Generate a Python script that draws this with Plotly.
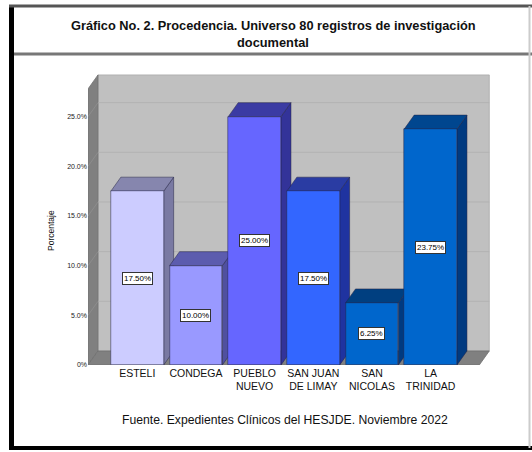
import plotly.graph_objects as go

# ---------------- data ----------------
categories = ["ESTELI", "CONDEGA", "PUEBLO<br>NUEVO", "SAN JUAN<br>DE LIMAY", "SAN<br>NICOLAS", "LA<br>TRINIDAD"]
values = [17.50, 10.00, 25.00, 17.50, 6.25, 23.75]
value_labels = ["17.50%", "10.00%", "25.00%", "17.50%", "6.25%", "23.75%"]
y_ticks = [0, 5, 10, 15, 20, 25]
y_tick_labels = ["0%", "5.0%", "10.0%", "15.0%", "20.0%", "25.0%"]
title_line1 = "Gráfico No. 2. Procedencia. Universo 80 registros de investigación"
title_line2 = "documental"
source_text = "Fuente. Expedientes Clínicos del HESJDE. Noviembre 2022"
y_title = "Porcentaje"

# ---------------- styles ----------------
front_colors = ["#CCCCFF", "#9999FF", "#6666FF", "#3366FF", "#0066CC", "#0066CC"]
top_colors = ["#8686AE", "#5C5CAE", "#3B3BA3", "#2A3CA3", "#003F80", "#00468F"]
side_colors = ["#7A7AA3", "#50509F", "#333399", "#1F33A0", "#003A80", "#003A80"]

W, H = 532, 452
L, R, T, B = 88, 31, 67, 87
XR = [-0.84, 6.2]
YR = [0, 30]
BW = 0.9          # bar width (category units)
DX = 0.17         # depth offset x (category units)
DY = 1.41         # depth offset y (value units)
FONT = "Liberation Sans, Arial, sans-serif"


def px(x):
    return (x - L) / (W - L - R)


def py(y):
    return (H - B - y) / (H - T - B)


x = list(range(len(values)))
shapes = []

# walls / floor
back_l, back_r = XR[0] + DX, 6.0
top_v = 29.2
shapes.append(dict(type="rect", xref="x", yref="y", x0=back_l, x1=back_r, y0=DY, y1=top_v,
                   fillcolor="#C0C0C0", line=dict(color="#A8A8A8", width=0.8), layer="below"))
shapes.append(dict(type="path", xref="x", yref="y",
                   path=f"M{XR[0]},0 L{XR[0]},{top_v-DY} L{back_l},{top_v} L{back_l},{DY} Z",
                   fillcolor="#808080", line=dict(color="#707070", width=0.8), layer="below"))
shapes.append(dict(type="path", xref="x", yref="y",
                   path=f"M{XR[0]},0 L{back_r-DX},0 L{back_r},{DY} L{back_l},{DY} Z",
                   fillcolor="#808080", line=dict(color="#707070", width=0.8), layer="below"))
# gridlines
for v in y_ticks[1:]:
    shapes.append(dict(type="line", xref="x", yref="y", x0=back_l, x1=back_r, y0=v + DY, y1=v + DY,
                       line=dict(color="#B2B2B2", width=1), layer="below"))
    shapes.append(dict(type="line", xref="x", yref="y", x0=XR[0], x1=back_l, y0=v, y1=v + DY,
                       line=dict(color="#8C8C8C", width=1), layer="below"))

# bar sides and tops
for i, v in enumerate(values):
    lft, rgt = i - BW / 2, i + BW / 2
    shapes.append(dict(type="path", xref="x", yref="y",
                       path=f"M{rgt},0 L{rgt+DX},{DY} L{rgt+DX},{v+DY} L{rgt},{v} Z",
                       fillcolor=side_colors[i], line=dict(color="#222244", width=0.5), layer="below"))
    shapes.append(dict(type="path", xref="x", yref="y",
                       path=f"M{lft},{v} L{lft+DX},{v+DY} L{rgt+DX},{v+DY} L{rgt},{v} Z",
                       fillcolor=top_colors[i], line=dict(color="#222244", width=0.5), layer="below"))

# frame
shapes += [
    dict(type="rect", xref="paper", yref="paper", x0=px(9), x1=px(14), y0=py(5), y1=py(450),
         fillcolor="#000000", line=dict(width=0), layer="above"),
    dict(type="line", xref="paper", yref="paper", x0=px(9), x1=px(532), y0=py(6), y1=py(6),
         line=dict(color="#555555", width=3)),
    dict(type="line", xref="paper", yref="paper", x0=px(14), x1=px(532), y0=py(54), y1=py(54),
         line=dict(color="#777777", width=3)),
    dict(type="line", xref="paper", yref="paper", x0=px(9), x1=px(532), y0=py(448), y1=py(448),
         line=dict(color="#000000", width=4)),
    dict(type="line", xref="paper", yref="paper", x0=px(529.5), x1=px(529.5), y0=py(6), y1=py(448),
         line=dict(color="#CCCCCC", width=2)),
]

fig = go.Figure()
fig.add_trace(go.Bar(x=x, y=values, width=BW, marker=dict(color=front_colors, line=dict(color="#222244", width=0.5)),
                     hoverinfo="skip", showlegend=False))

annotations = []
for i, v in enumerate(values):
    annotations.append(dict(x=i, y=v / 2, xref="x", yref="y", text=value_labels[i], showarrow=False,
                            font=dict(family=FONT, size=8, color="#000000"),
                            bgcolor="#FFFFFF", bordercolor="#333333", borderwidth=1, borderpad=1))

annotations += [
    dict(x=px(273), y=py(25), xref="paper", yref="paper", text=f"<b>{title_line1}</b>", showarrow=False,
         font=dict(family=FONT, size=12.8, color="#111111"), xanchor="center", yanchor="middle"),
    dict(x=px(273), y=py(42), xref="paper", yref="paper", text=f"<b>{title_line2}</b>", showarrow=False,
         font=dict(family=FONT, size=12.8, color="#111111"), xanchor="center", yanchor="middle"),
    dict(x=px(285), y=py(420), xref="paper", yref="paper", text=source_text, showarrow=False,
         font=dict(family=FONT, size=12.2, color="#111111"), xanchor="center", yanchor="middle"),
    dict(x=px(51), y=py(231), xref="paper", yref="paper", text=y_title, showarrow=False, textangle=-90,
         font=dict(family=FONT, size=8.5, color="#111111"), xanchor="center", yanchor="middle"),
]

fig.update_layout(
    width=W, height=H,
    margin=dict(l=L, r=R, t=T, b=B, pad=0),
    paper_bgcolor="#FFFFFF", plot_bgcolor="rgba(0,0,0,0)",
    shapes=shapes, annotations=annotations, bargap=0,
    xaxis=dict(range=XR, tickvals=x, ticktext=categories, showgrid=False, zeroline=False, showline=False,
               ticks="", tickfont=dict(family=FONT, size=10.5, color="#111111"), fixedrange=True),
    yaxis=dict(range=YR, tickvals=y_ticks, ticktext=y_tick_labels, showgrid=False, zeroline=False, showline=False,
               ticks="", tickfont=dict(family=FONT, size=7, color="#222222"), fixedrange=True),
)

fig.write_html("out.html", config={"displayModeBar": False})
